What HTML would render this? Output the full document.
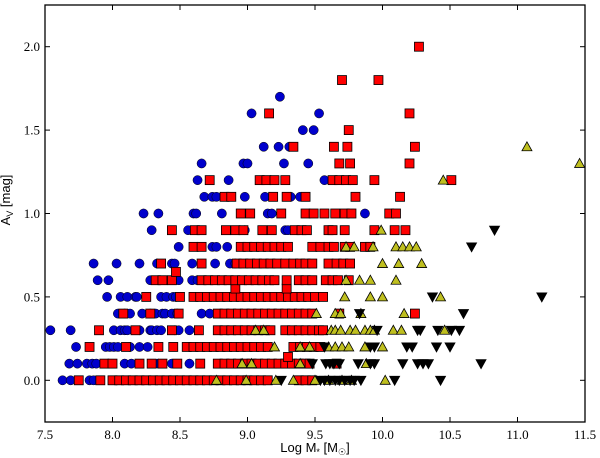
<!DOCTYPE html>
<html><head><meta charset="utf-8"><style>
html,body{margin:0;padding:0;background:#fff;}
svg{display:block;}
text{font-family:"Liberation Serif",serif;font-size:13px;fill:#000;}
.lab{font-family:"Liberation Sans",sans-serif;font-size:13px;}
</style></head><body>
<svg id="chart" width="600" height="458" xmlns="http://www.w3.org/2000/svg">
<g id="marks"></g>
<g id="axes"></g>
<text class="lab" x="10" y="200" text-anchor="middle" transform="rotate(-90 10 200)">A<tspan font-size="9" dy="3">V</tspan><tspan dy="-3"> [mag]</tspan></text>
<text class="lab" x="315" y="452" text-anchor="middle">Log M<tspan font-size="9" dy="3">*</tspan><tspan dy="-3"> [M</tspan><tspan font-size="9" dy="3">☉</tspan><tspan dy="-3">]</tspan></text>
</svg>
<script>
const xTicks=[7.5,8.0,8.5,9.0,9.5,10.0,10.5,11.0,11.5];
const yTicks=[0.0,0.5,1.0,1.5,2.0];
// Blue circles: levels and x per level
const blueLevels=[0,0.1,0.2,0.3,0.4,0.5,0.6,0.7,0.8,0.9,1.0,1.1,1.2,1.3,1.4,1.5,1.6,1.7];
const blueXs=[
[7.63,7.69,7.83,7.86,8.03],
[7.68,7.74,7.81,7.85,7.88,8.09,8.14,8.34,8.44,8.57],
[7.73,7.95,7.98,8.01,8.04,8.13,8.2,8.26],
[7.54,7.69,8.01,8.06,8.09,8.11,8.2,8.28,8.29,8.33,8.36,8.46,8.49,8.57],
[8.04,8.09,8.13,8.22,8.28,8.32,8.37,8.39,8.44,8.48,8.66,8.72],
[7.96,8.06,8.11,8.17,8.18,8.36,8.4,8.45,8.47],
[7.89,7.97,8.28,8.49,8.59,8.63],
[7.86,8.03,8.2,8.33,8.44,8.46,8.59,8.76,8.87,8.91],
[8.49,8.74,8.77,8.85],
[8.29,8.56,8.98,9.28,9.3],
[8.23,8.34,8.6,8.62,8.81,9.15,9.18,9.87],
[8.68,8.74,8.77,8.98,9.13,9.32,9.39],
[8.63,8.86,9.57],
[8.66,8.97,9.0,9.27,9.45],
[9.12,9.23,9.31],
[9.41,9.49],
[9.03,9.53],
[9.24]];
const redLevels=[0,0.1,0.14,0.2,0.3,0.4,0.5,0.55,0.6,0.65,0.7,0.8,0.9,1.0,1.1,1.2,1.3,1.4,1.5,1.6,1.8,2.0];
const redXs=[
[7.75,7.91,8.0,8.05,8.1,8.15,8.2,8.25,8.3,8.35,8.4,8.45,8.5,8.55,8.6,8.65,8.7,8.75,8.8,8.85,8.9,8.95,9.0,9.05,9.1,9.15,9.38,9.43,9.48],
[7.94,8.0,8.2,8.29,8.37,8.48,8.65,8.78,8.83,8.88,8.93,8.98,9.03,9.08,9.13,9.18,9.23,9.28,9.33,9.38,9.43,9.46,9.66],
[9.3],
[7.83,8.1,8.34,8.45,8.55,8.6,8.65,8.7,8.75,8.8,8.85,8.9,8.95,9.0,9.05,9.1,9.15,9.34,9.39,9.44,9.49,9.54],
[7.9,8.17,8.44,8.64,8.78,8.83,8.88,8.93,8.98,9.03,9.08,9.13,9.17,9.28,9.33,9.38,9.43,9.48,9.53,9.56],
[8.08,8.28,8.49,8.78,8.83,8.88,8.93,8.98,9.03,9.08,9.13,9.18,9.23,9.28,9.33,9.38,9.43,9.48,9.68,10.24],
[8.25,8.5,8.6,8.65,8.7,8.75,8.8,8.85,8.9,8.95,9.0,9.05,9.1,9.15,9.2,9.25,9.3,9.35,9.4,9.45,9.5,9.56],
[8.91,9.29],
[8.32,8.37,8.44,8.66,8.71,8.76,8.81,8.86,8.91,8.96,9.01,9.06,9.11,9.16,9.2,9.29,9.38,9.43,9.48,9.58,9.63,9.67,9.75],
[8.47],
[8.36,8.66,8.92,8.97,9.02,9.07,9.12,9.17,9.22,9.28,9.34,9.39,9.43,9.48,9.6,9.66,9.71,9.76],
[8.6,8.66,8.95,9.0,9.05,9.1,9.15,9.2,9.25,9.3,9.48,9.54,9.6,9.64,9.72,9.76,9.87,9.91],
[8.44,8.61,8.66,8.84,8.91,8.97,9.11,9.18,9.35,9.4,9.44,9.6,9.63,9.72,9.94,10.09,10.17],
[8.95,9.02,9.25,9.43,9.49,9.57,9.65,9.72,9.77,10.05,10.1],
[8.83,8.88,9.19,9.29,9.43,9.8,10.13],
[8.72,9.09,9.14,9.2,9.28,9.63,9.68,9.73,9.78,9.94,10.51],
[9.68,9.76,10.2],
[9.34,9.64,9.74,10.24],
[9.75],
[9.16,10.2],
[9.7,9.97],
[10.27]];
const yellowLevels=[0,0.1,0.2,0.3,0.4,0.5,0.6,0.7,0.8,0.9,1.2,1.3,1.4];
const yellowXs=[
[8.77,8.99,9.21,9.34,9.5,9.6,9.7,9.77,10.02],
[8.96,9.03,9.39,9.88],
[9.2,9.39,9.46,9.6,9.65,9.7,9.75,9.87,10.0],
[9.06,9.12,9.62,9.65,9.69,9.76,9.8,9.87,9.91,9.94,10.08,10.14,10.46],
[9.51,9.65,9.69,9.84,10.16],
[9.72,9.91,10.0,10.43],
[9.73,9.83,9.91,10.1],
[10.0,10.12,10.29],
[9.73,9.79,9.93,10.1,10.15,10.2,10.25],
[9.99],
[10.45],
[11.46],
[11.07]];
const blackLevels=[0,0.1,0.2,0.3,0.4,0.5,0.8,0.9];
const blackXs=[
[9.25,9.54,9.57,9.61,9.65,9.68,9.72,9.76,9.79,9.84,10.09,10.43],
[9.48,9.58,9.61,9.64,9.68,9.82,9.91,9.94,10.15,10.26,10.3,10.34,10.73],
[9.57,9.91,9.94,10.18,10.22,10.4,10.5],
[9.96,10.26,10.28,10.41,10.51,10.57],
[9.83,10.6],
[10.37,11.18],
[10.66],
[10.83]];

const L=45,R=585,T=5,B=422,xmin=7.5,xmax=11.5,ymin=-0.25,ymax=2.25;
function sx(v){return L+(v-xmin)/(xmax-xmin)*(R-L);}
function sy(v){return B-(v-ymin)/(ymax-ymin)*(B-T);}
const NS='http://www.w3.org/2000/svg';
const marks=document.getElementById('marks');
const axes=document.getElementById('axes');
function mk(tag,attrs,parent){const e=document.createElementNS(NS,tag);for(const k in attrs)e.setAttribute(k,attrs[k]);parent.appendChild(e);return e;}
function drawSeries(levels,xs,kind){
  const g=mk('g',{},marks);
  
  
  levels.forEach((lv,i)=>{xs[i].forEach(xv=>{
    const cx=sx(xv),cy=sy(lv);let e;
    if(kind==='blue'){e=mk('circle',{cx:cx,cy:cy,r:4.6,fill:'#0000cc',stroke:'#000',"stroke-width":0.5},g);}
    else if(kind==='red'){e=mk('rect',{x:cx-4.5,y:cy-4.5,width:9,height:9,fill:'#ff0000',stroke:'#000',"stroke-width":0.8},g);}
    else if(kind==='yellow'){e=mk('polygon',{points:`${cx},${cy-5} ${cx-5},${cy+4} ${cx+5},${cy+4}`,fill:'#bfbf1f',stroke:'#000',"stroke-width":0.8},g);}
    else {e=mk('polygon',{points:`${cx-5},${cy-4} ${cx+5},${cy-4} ${cx},${cy+5}`,fill:'#000',stroke:'#000',"stroke-width":0.8},g);}
    
    
  });});
}
drawSeries(blueLevels,blueXs,'blue');
drawSeries(redLevels,redXs,'red');
drawSeries(yellowLevels,yellowXs,'yellow');
drawSeries(blackLevels,blackXs,'black');

const frame=mk('rect',{x:L,y:T,width:R-L,height:B-T,fill:'none',stroke:'#000',"stroke-width":1.3},axes);


xTicks.forEach(v=>{const x=sx(v);
  mk('line',{x1:x,y1:B,x2:x,y2:B-5,stroke:'#000'},axes);
  mk('line',{x1:x,y1:T,x2:x,y2:T+5,stroke:'#000'},axes);
  const t=mk('text',{x:x,y:B+17,"text-anchor":"middle"},axes);t.textContent=v.toFixed(1);
  
  
});
yTicks.forEach(v=>{const y=sy(v);
  mk('line',{x1:L,y1:y,x2:L+5,y2:y,stroke:'#000'},axes);
  mk('line',{x1:R,y1:y,x2:R-5,y2:y,stroke:'#000'},axes);
  const t=mk('text',{x:L-5,y:y+4.5,"text-anchor":"end"},axes);t.textContent=v.toFixed(1);
  
  
});
</script>
</body></html>
